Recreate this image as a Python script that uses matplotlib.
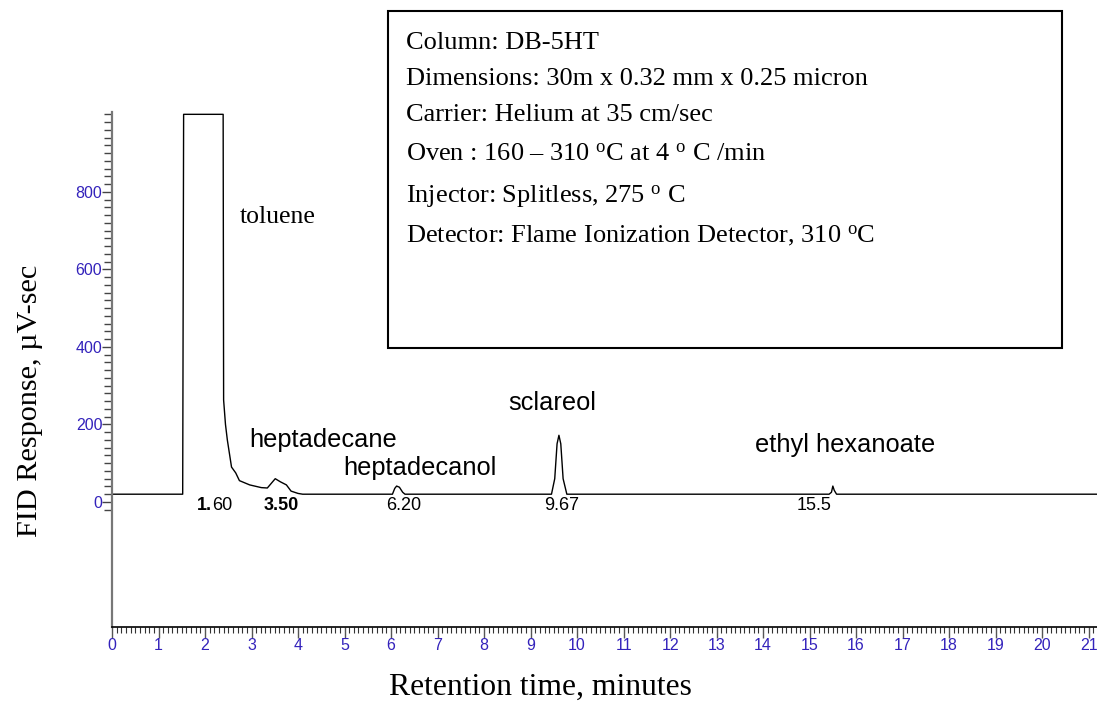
import numpy as np
import matplotlib
matplotlib.use("Agg")
import matplotlib.pyplot as plt
from matplotlib.ticker import FixedLocator, MultipleLocator
from matplotlib.patches import Rectangle

# ---- data ----
trace_time = [0.0, 1.52, 1.54, 2.39, 2.40, 2.44, 2.48, 2.57, 2.66, 2.74, 2.96,
              3.21, 3.34, 3.51, 3.62, 3.75, 3.85, 4.00, 4.10,
              6.03, 6.08, 6.12, 6.18, 6.25, 6.30,
              9.45, 9.52, 9.57, 9.61, 9.65, 9.70, 9.78,
              15.42, 15.47, 15.50, 15.53, 15.58, 21.2]
trace_response = [20, 20, 1000, 1000, 263, 200, 160, 90, 75, 55, 44,
                  37, 36, 60, 52, 44, 28, 22, 20,
                  20, 35, 41, 38, 25, 20,
                  20, 60, 150, 172, 150, 60, 20,
                  20, 25, 41, 30, 20, 20]

compound_names = ["toluene", "heptadecane", "heptadecanol", "sclareol", "ethyl hexanoate"]
compound_label_x = [2.74, 2.95, 4.97, 8.52, 13.83]
compound_label_y = [735, 160, 88, 255, 147]

rt_labels = ["1.60", "3.50", "6.20", "9.67", "15.5"]
rt_label_x = [2.16, 3.64, 6.27, 9.66, 15.1]

info_lines = [
    "Column: DB-5HT",
    "Dimensions: 30m x 0.32 mm x 0.25 micron",
    "Carrier: Helium at 35 cm/sec",
    "Oven : 160 \u2013 310 $^{\\mathrm{o}}$C at 4 $^{\\mathrm{o}}$ C /min",
    "Injector: Splitless, 275 $^{\\mathrm{o}}$ C",
    "Detector: Flame Ionization Detector, 310 $^{\\mathrm{o}}$C",
]

y_major = [0, 200, 400, 600, 800]
x_major = list(range(0, 22))

# ---- style ----
SERIF = "Liberation Serif"
SANS = "Liberation Sans"
plt.rcParams["font.family"] = [SANS, "DejaVu Sans"]
plt.rcParams["mathtext.fontset"] = "custom"
plt.rcParams["mathtext.rm"] = SERIF
plt.rcParams["mathtext.it"] = SERIF + ":italic"
plt.rcParams["mathtext.bf"] = SERIF + ":bold"
TICKBLUE = "#3322bb"

fig = plt.figure(figsize=(10.97, 7.05), dpi=100)
ax = fig.add_axes([112 / 1097, 78 / 705, 985 / 1097, 515 / 705])

ax.plot(trace_time, trace_response, color="black", lw=1.0)
ax.set_xlim(0, 21.18)
ax.set_ylim(-322.6, 1006)

for s in ["top", "right"]:
    ax.spines[s].set_visible(False)
ax.spines["left"].set_color("#777777")
ax.spines["left"].set_linewidth(1.6)
ax.spines["bottom"].set_color("black")
ax.spines["bottom"].set_linewidth(1.2)

ax.yaxis.set_major_locator(FixedLocator(y_major))
ax.yaxis.set_minor_locator(FixedLocator(list(range(-20, 1001, 20))))
ax.xaxis.set_major_locator(FixedLocator(x_major))
ax.xaxis.set_minor_locator(MultipleLocator(0.1))

ax.tick_params(axis="y", which="major", direction="out", length=7, width=1.0,
               color="#444444", labelcolor=TICKBLUE, labelsize=11.5, pad=0)
ax.tick_params(axis="y", which="minor", direction="out", length=6, width=1.0,
               color="#444444")
ax.tick_params(axis="x", which="major", direction="out", length=8, width=1.0,
               color="#555555", labelcolor=TICKBLUE, labelsize=11.5, pad=0)
ax.tick_params(axis="x", which="minor", direction="out", length=4.5, width=0.8,
               color="#333333")
for lab in ax.get_xticklabels() + ax.get_yticklabels():
    lab.set_fontfamily(SANS)

# compound names
for name, lx, ly in zip(compound_names, compound_label_x, compound_label_y):
    if name == "toluene":
        ax.text(lx, ly, name, family=SERIF, fontsize=18.5, ha="left", va="center")
    else:
        ax.text(lx, ly, name, family=SANS, fontsize=18.3, ha="left", va="center")

# retention time labels
for lab, lx in zip(rt_labels, rt_label_x):
    if lab == "1.60":
        ax.text(lx, -10, lab[:2], family=SANS, fontsize=13, fontweight="bold",
                ha="right", va="center")
        ax.text(lx, -10, lab[2:], family=SANS, fontsize=13, ha="left", va="center")
    elif lab == "3.50":
        ax.text(lx, -10, lab, family=SANS, fontsize=13, fontweight="bold",
                ha="center", va="center")
    else:
        ax.text(lx, -10, lab, family=SANS, fontsize=13, ha="center", va="center")

# axis titles
fig.text(30 / 1097, 1 - 401 / 705, "FID Response, \u00b5V-sec", family=SERIF,
         fontsize=21.8, rotation=90, ha="center", va="center")
fig.text(540 / 1097, 1 - 687 / 705, "Retention time, minutes", family=SERIF,
         fontsize=22.8, ha="center", va="center")

# info box
box = Rectangle((388 / 1097, 1 - 348 / 705), (1062 - 388) / 1097, (348 - 11) / 705,
                transform=fig.transFigure, fill=False, edgecolor="black", lw=1.5)
fig.patches.append(box)
line_y = [43, 79, 115, 155, 197, 236]
for txt, py in zip(info_lines, line_y):
    fig.text(406 / 1097, 1 - py / 705, txt, family=SERIF, fontsize=19.0,
             ha="left", va="center")

fig.savefig("out.png", dpi=100)
